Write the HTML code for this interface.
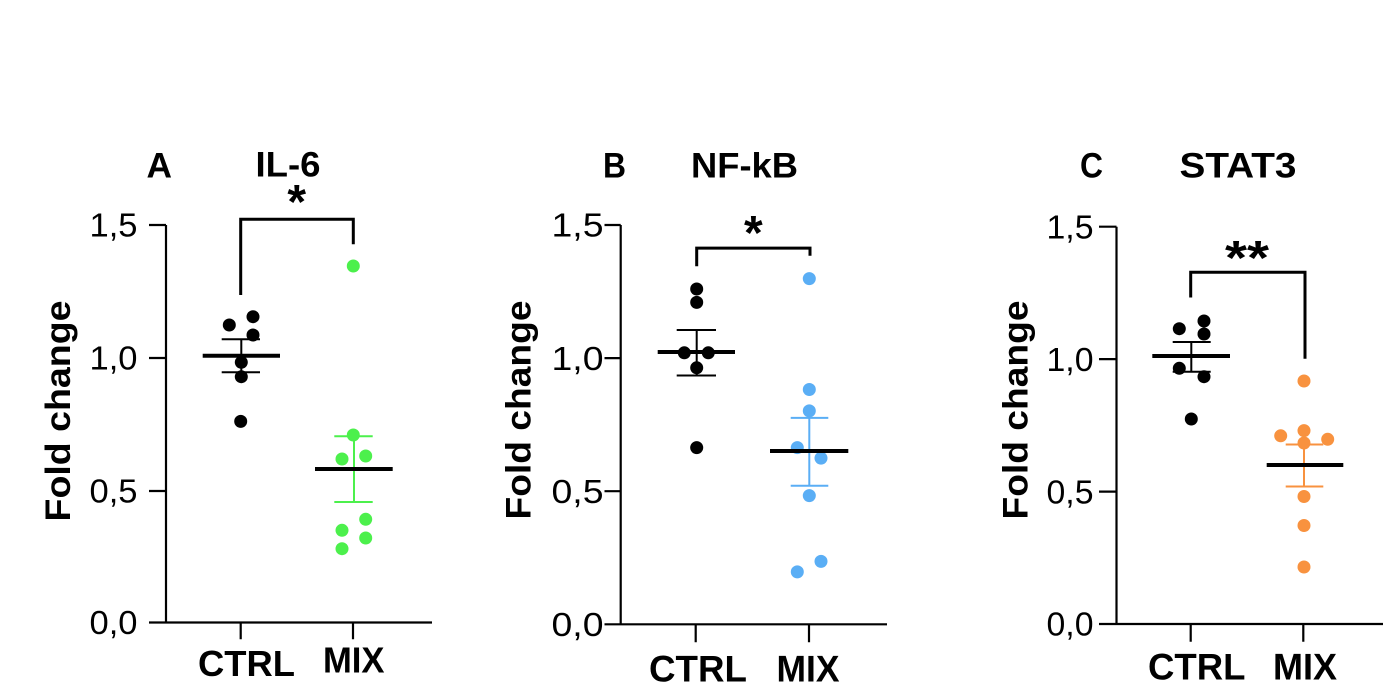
<!DOCTYPE html>
<html><head><meta charset="utf-8"><style>
html,body{margin:0;padding:0;background:#fff;}
svg{display:block;}
text{font-family:"Liberation Sans",Arial,sans-serif;fill:#000;}
.b{font-weight:bold;}
</style></head><body>
<svg width="1383" height="696" viewBox="0 0 1383 696" xmlns="http://www.w3.org/2000/svg">
<rect width="1383" height="696" fill="#fff"/>

<!-- ================= PANEL A ================= -->
<g>
<text class="b" x="146.5" y="177.5" font-size="35" textLength="25.5" lengthAdjust="spacingAndGlyphs">A</text>
<text class="b" x="255.5" y="176.5" font-size="35" textLength="65" lengthAdjust="spacingAndGlyphs">IL-6</text>
<text class="b" x="296.7" y="218" font-size="48" text-anchor="middle">*</text>
<path d="M240.7 295 V219.3 H353.3 V244.3" fill="none" stroke="#000" stroke-width="3"/>
<text class="b" transform="translate(70,411) rotate(-90)" font-size="35" text-anchor="middle" textLength="221" lengthAdjust="spacingAndGlyphs">Fold change</text>
<g font-size="33">
<text x="137.5" y="236.7" text-anchor="end" textLength="48" lengthAdjust="spacingAndGlyphs">1,5</text>
<text x="137.5" y="369.7" text-anchor="end" textLength="48" lengthAdjust="spacingAndGlyphs">1,0</text>
<text x="137.5" y="502.7" text-anchor="end" textLength="48" lengthAdjust="spacingAndGlyphs">0,5</text>
<text x="137.5" y="634.2" text-anchor="end" textLength="48" lengthAdjust="spacingAndGlyphs">0,0</text>
</g>
<g stroke="#000" stroke-width="2.2" fill="none">
<path d="M166 225 V623.5 M149 225 H166 M149 358 H166 M149 491 H166 M149 622.5 H166 M166 622.5 H432 M240.7 622.5 V639.3 M353 622.5 V639.3"/>
</g>
<text class="b" x="198" y="676" font-size="36" textLength="97" lengthAdjust="spacingAndGlyphs">CTRL</text>
<text class="b" x="323" y="672.7" font-size="36" textLength="61.5" lengthAdjust="spacingAndGlyphs">MIX</text>
<g fill="#000">
<circle cx="229.3" cy="325" r="6.5"/><circle cx="253" cy="316.7" r="6.5"/><circle cx="253" cy="335" r="6.5"/>
<circle cx="241.3" cy="362.3" r="6.5"/><circle cx="241.3" cy="376.7" r="6.5"/><circle cx="240.7" cy="421.4" r="6.5"/>
</g>
<g fill="#4cf04c">
<circle cx="353.3" cy="266" r="6.5"/><circle cx="353.3" cy="435" r="6.5"/><circle cx="342" cy="459" r="6.5"/>
<circle cx="365.7" cy="456" r="6.5"/><circle cx="342" cy="530.3" r="6.5"/><circle cx="365.7" cy="519.3" r="6.5"/>
<circle cx="365.7" cy="538" r="6.5"/><circle cx="342" cy="548.7" r="6.5"/>
</g>
<g stroke="#000" stroke-width="2" fill="none"><path d="M241.3 339.3 V372.3 M221.7 339.3 H260 M221.7 372.3 H260"/></g>
<g stroke="#4cf04c" stroke-width="2" fill="none"><path d="M354 436.2 V502 M334.3 436.2 H372.7 M334.3 502 H372.7"/></g>
<g stroke="#000" stroke-width="4"><path d="M202.7 355.7 H280 M315 469 H392.7"/></g>
</g>

<!-- ================= PANEL B ================= -->
<g>
<text class="b" x="603" y="177.5" font-size="35" textLength="23" lengthAdjust="spacingAndGlyphs">B</text>
<text class="b" x="691" y="177.5" font-size="35" textLength="107" lengthAdjust="spacingAndGlyphs">NF-kB</text>
<text class="b" x="753.3" y="249" font-size="48" text-anchor="middle">*</text>
<path d="M696.7 266.3 V248.1 H810 V255.8" fill="none" stroke="#000" stroke-width="3"/>
<text class="b" transform="translate(530.5,410) rotate(-90)" font-size="35" text-anchor="middle" textLength="219" lengthAdjust="spacingAndGlyphs">Fold change</text>
<g font-size="33">
<text x="603.5" y="236.7" text-anchor="end" textLength="52" lengthAdjust="spacingAndGlyphs">1,5</text>
<text x="603.5" y="369.8" text-anchor="end" textLength="52" lengthAdjust="spacingAndGlyphs">1,0</text>
<text x="603.5" y="502.9" text-anchor="end" textLength="52" lengthAdjust="spacingAndGlyphs">0,5</text>
<text x="603.5" y="636" text-anchor="end" textLength="52" lengthAdjust="spacingAndGlyphs">0,0</text>
</g>
<g stroke="#000" stroke-width="2.2" fill="none">
<path d="M620.7 225 V625.3 M604.5 225 H620.7 M604.5 358.1 H620.7 M604.5 491.2 H620.7 M604.5 624.3 H620.7 M620.7 624.3 H887 M695.7 624.3 V642.3 M809 624.3 V642.3"/>
</g>
<text class="b" x="649" y="681.7" font-size="37" textLength="98" lengthAdjust="spacingAndGlyphs">CTRL</text>
<text class="b" x="776.5" y="681.7" font-size="37" textLength="63" lengthAdjust="spacingAndGlyphs">MIX</text>
<g fill="#000">
<circle cx="696.7" cy="289" r="6.5"/><circle cx="696.7" cy="302.4" r="6.5"/><circle cx="684.3" cy="352.8" r="6.5"/>
<circle cx="708.3" cy="352.8" r="6.5"/><circle cx="696.7" cy="367.8" r="6.5"/><circle cx="696.7" cy="447.6" r="6.5"/>
</g>
<g fill="#5aaef5">
<circle cx="809.3" cy="278.6" r="6.5"/><circle cx="809.3" cy="389.5" r="6.5"/><circle cx="809.3" cy="410.9" r="6.5"/>
<circle cx="797.3" cy="447.6" r="6.5"/><circle cx="821" cy="458.1" r="6.5"/><circle cx="809.3" cy="495.6" r="6.5"/>
<circle cx="821" cy="561.4" r="6.5"/><circle cx="797.3" cy="571.9" r="6.5"/>
</g>
<g stroke="#000" stroke-width="2" fill="none"><path d="M696.7 330 V375.5 M676.7 330 H716 M676.7 375.5 H716"/></g>
<g stroke="#5aaef5" stroke-width="2" fill="none"><path d="M809.3 417.9 V485.8 M790.7 417.9 H828.3 M790.7 485.8 H828.3"/></g>
<g stroke="#000" stroke-width="4"><path d="M657.7 352 H735 M770 451 H848.3"/></g>
</g>

<!-- ================= PANEL C ================= -->
<g>
<text class="b" x="1080" y="177.5" font-size="35" textLength="23" lengthAdjust="spacingAndGlyphs">C</text>
<text class="b" x="1179.5" y="177.5" font-size="35" textLength="117" lengthAdjust="spacingAndGlyphs">STAT3</text>
<text class="b" x="1247" y="274" font-size="48" text-anchor="middle" textLength="44" lengthAdjust="spacingAndGlyphs">**</text>
<path d="M1190.7 297.5 V272.3 H1305 V358.8" fill="none" stroke="#000" stroke-width="3"/>
<text class="b" transform="translate(1027.5,410) rotate(-90)" font-size="35" text-anchor="middle" textLength="219" lengthAdjust="spacingAndGlyphs">Fold change</text>
<g font-size="33">
<text x="1093.5" y="238.4" text-anchor="end" textLength="47" lengthAdjust="spacingAndGlyphs">1,5</text>
<text x="1093.5" y="370.8" text-anchor="end" textLength="47" lengthAdjust="spacingAndGlyphs">1,0</text>
<text x="1093.5" y="503.3" text-anchor="end" textLength="47" lengthAdjust="spacingAndGlyphs">0,5</text>
<text x="1093.5" y="635.7" text-anchor="end" textLength="47" lengthAdjust="spacingAndGlyphs">0,0</text>
</g>
<g stroke="#000" stroke-width="2.2" fill="none">
<path d="M1116.5 226.7 V625 M1099 226.7 H1116.5 M1099 359.1 H1116.5 M1099 491.6 H1116.5 M1099 624 H1116.5 M1116.5 624 H1383 M1190.7 624 V641.7 M1303.3 624 V641.7"/>
</g>
<text class="b" x="1148" y="679.3" font-size="37" textLength="97.5" lengthAdjust="spacingAndGlyphs">CTRL</text>
<text class="b" x="1273" y="679.3" font-size="37" textLength="64" lengthAdjust="spacingAndGlyphs">MIX</text>
<g fill="#000">
<circle cx="1179.3" cy="328.7" r="6.5"/><circle cx="1204" cy="321" r="6.5"/><circle cx="1204" cy="334" r="6.5"/>
<circle cx="1179.3" cy="368.3" r="6.5"/><circle cx="1204" cy="376.7" r="6.5"/><circle cx="1191.3" cy="419" r="6.5"/>
</g>
<g fill="#f8923f">
<circle cx="1304" cy="381" r="6.5"/><circle cx="1280.7" cy="435.8" r="6.5"/><circle cx="1304" cy="430.6" r="6.5"/>
<circle cx="1327.7" cy="439.3" r="6.5"/><circle cx="1304" cy="443" r="6.5"/><circle cx="1304" cy="496.5" r="6.5"/>
<circle cx="1304" cy="525.5" r="6.5"/><circle cx="1304" cy="567" r="6.5"/>
</g>
<g stroke="#000" stroke-width="2" fill="none"><path d="M1191.3 342 V371.7 M1172.7 342 H1210.7 M1172.7 371.7 H1210.7"/></g>
<g stroke="#f8923f" stroke-width="2" fill="none"><path d="M1304 444.5 V486.5 M1285.7 444.5 H1323.3 M1285.7 486.5 H1323.3"/></g>
<g stroke="#000" stroke-width="4"><path d="M1152.3 356 H1230 M1266.7 465 H1343.3"/></g>
</g>
</svg>
</body></html>
